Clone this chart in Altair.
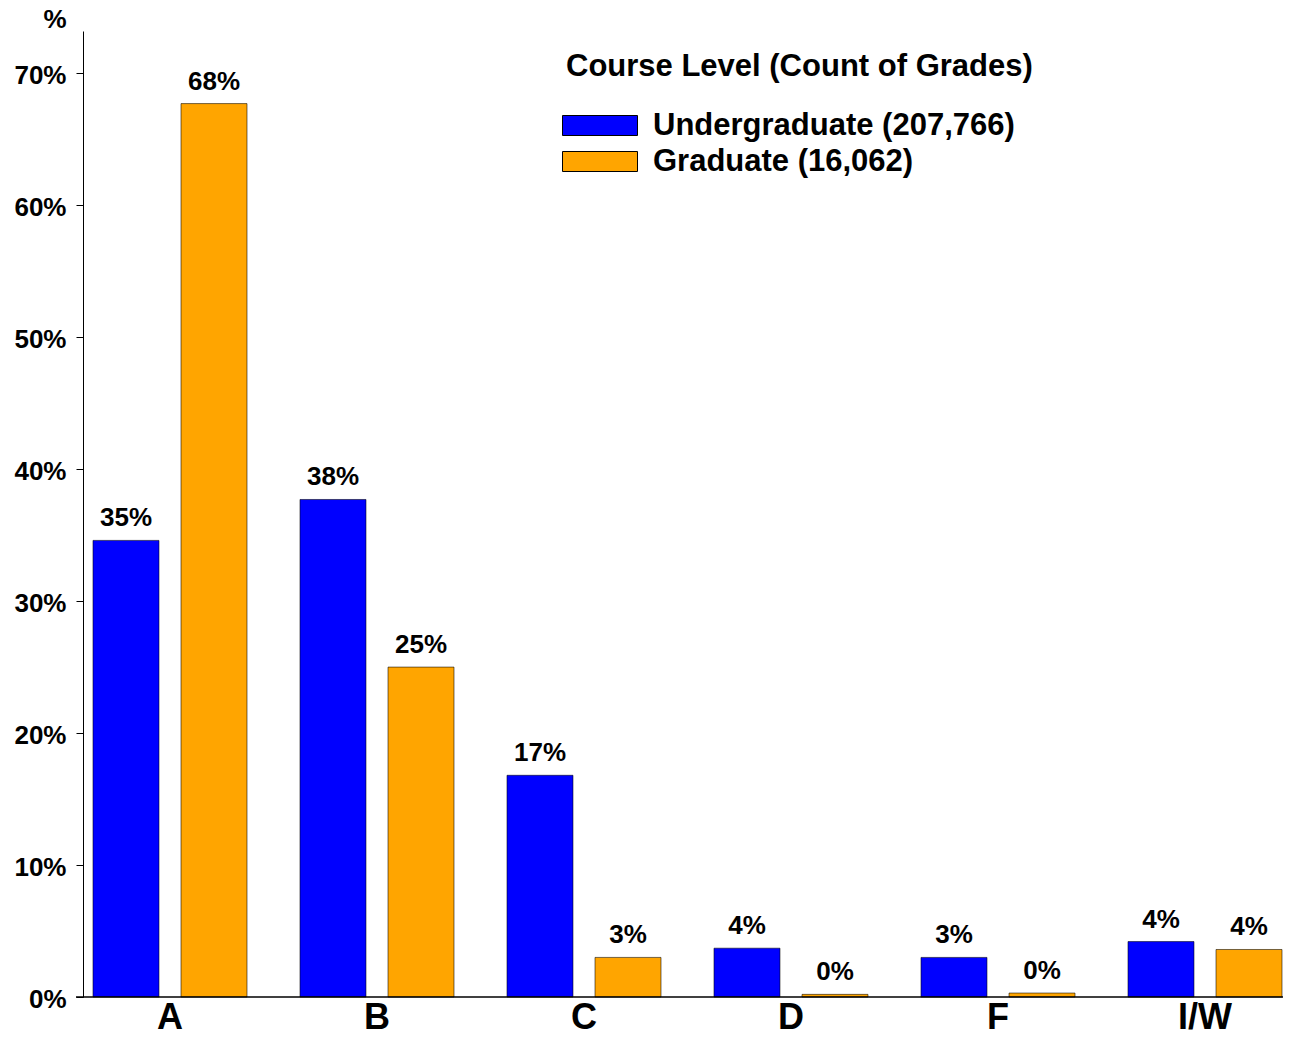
import altair as alt
import pandas as pd

grades = ["A", "B", "C", "D", "F", "I/W"]
levels = ["Undergraduate (207,766)", "Graduate (16,062)"]
undergrad = [34.6, 37.7, 16.8, 3.7, 3.0, 4.2]
graduate = [67.7, 25.0, 3.0, 0.2, 0.3, 3.6]
colors = ["#0000FF", "#FFA500"]
y_ticks = [0, 10, 20, 30, 40, 50, 60, 70]
legend_title = "Course Level (Count of Grades)"

rows = []
for g, u, gr in zip(grades, undergrad, graduate):
    rows.append({"grade": g, "level": levels[0], "pct": u})
    rows.append({"grade": g, "level": levels[1], "pct": gr})
df = pd.DataFrame(rows)

W, H = 1200, 966
FONT = "Liberation Sans"

x = alt.X(
    "grade:N", sort=grades,
    scale=alt.Scale(range=[-16.5, 1225.5], paddingInner=0, paddingOuter=0),
    axis=alt.Axis(title=None, labelAngle=0, labelFontSize=36, labelFontWeight="bold",
                  labelFont=FONT, labelColor="black", ticks=False, domain=False,
                  labelPadding=3, labelBaseline="top"),
)
xo = alt.XOffset("level:N", sort=levels,
                 scale=alt.Scale(paddingInner=0.25, paddingOuter=0.301))
y = alt.Y(
    "pct:Q",
    scale=alt.Scale(domain=[0, 73.2], nice=False, zero=True),
    axis=alt.Axis(values=y_ticks, labelExpr="datum.value + '%'", title="%",
                  titleAngle=0, titleAlign="right", titleBaseline="alphabetic",
                  titleX=-17, titleY=-4, titleFontSize=26, titleFont=FONT,
                  titleFontWeight="bold", titleColor="black",
                  labelFontSize=26, labelFont=FONT, labelFontWeight="bold",
                  labelColor="black", labelPadding=10, labelOffset=2, tickSize=7,
                  tickColor="black", domainColor="black", grid=False),
)
color = alt.Color(
    "level:N", sort=levels,
    scale=alt.Scale(domain=levels, range=colors),
    legend=alt.Legend(
        title=legend_title, orient="none", legendX=483, legendY=21,
        titleFontSize=31, titleFont=FONT, titleFontWeight="bold", titleColor="black",
        titleLimit=800, titlePadding=27,
        labelFontSize=31, labelFont=FONT, labelFontWeight="bold", labelColor="black",
        labelLimit=800, labelOffset=56,
        symbolType="M-1.9,-1H5.6V1H-1.9Z", symbolSize=400,
        symbolStrokeColor="black", symbolStrokeWidth=1, symbolOpacity=1,
        rowPadding=4, padding=0,
    ),
)

bars = alt.Chart(df).mark_bar(stroke="black", strokeWidth=1, strokeOpacity=0.55).encode(
    x=x, xOffset=xo, y=y, color=color
)
labels = alt.Chart(df).transform_calculate(
    label="format(datum.pct, '.0f') + '%'"
).mark_text(dy=-14, baseline="alphabetic", fontSize=26, font=FONT,
            fontWeight="bold", color="black").encode(
    x=alt.X("grade:N", sort=grades), xOffset=alt.XOffset("level:N", sort=levels),
    y="pct:Q", text="label:N"
)
axis_line = alt.Chart(pd.DataFrame({"v": [0]})).mark_rule(color="black", strokeWidth=1.5).encode(
    x=alt.value(-7), x2=alt.value(W), y=alt.datum(0)
)

chart = alt.layer(bars, labels, axis_line).properties(
    width=W, height=H,
    autosize=alt.AutoSizeParams(type="none"),
    padding={"left": 75, "top": 23, "right": 0, "bottom": 33},
).configure_view(strokeWidth=0)

chart.save("out.html", embed_options={"renderer": "svg", "actions": False})
